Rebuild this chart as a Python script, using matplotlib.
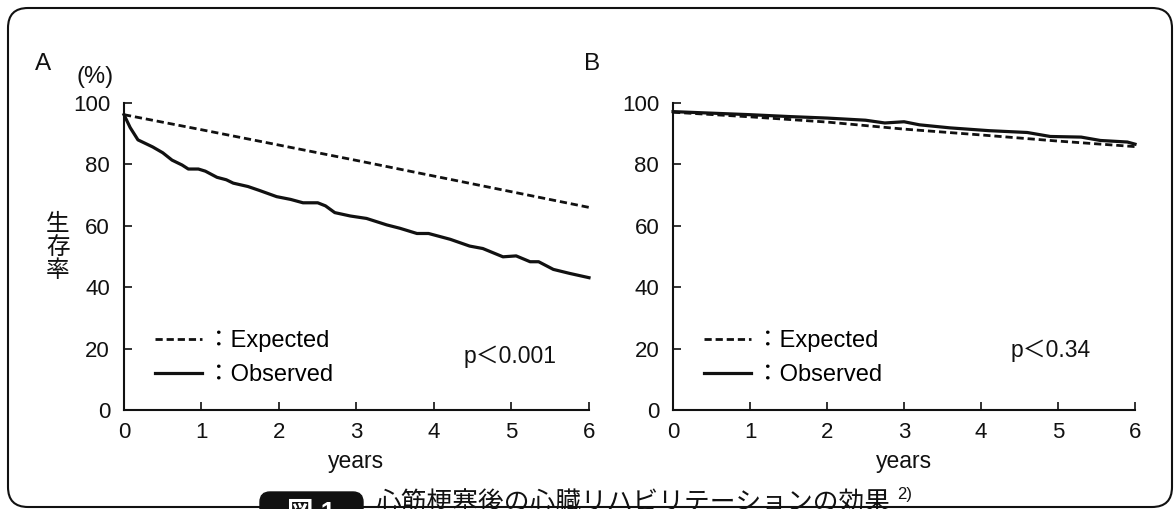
import matplotlib
matplotlib.use("Agg")
from matplotlib import pyplot as plt
from matplotlib.patches import FancyBboxPatch

plt.rcParams["font.family"] = ["Liberation Sans", "Noto Sans CJK JP"]

# panel A
years_a_exp = [0, 1, 2, 3, 4, 5, 6]
expected_a = [96.2, 91.3, 86.3, 81.3, 76.2, 71.1, 66.0]
years_a_obs = [0, 0.08, 0.18, 0.37, 0.5, 0.62, 0.75, 0.83, 0.96, 1.05, 1.2, 1.32,
               1.41, 1.6, 1.75, 1.97, 2.15, 2.31, 2.5, 2.6, 2.72, 2.92, 3.13, 3.39,
               3.56, 3.78, 3.93, 4.21, 4.46, 4.63, 4.89, 5.06, 5.24, 5.35, 5.54,
               5.75, 6.0]
observed_a = [96.2, 92.0, 88.0, 85.7, 83.8, 81.4, 79.8, 78.5, 78.5, 77.8, 75.8, 75.0,
              73.9, 72.8, 71.5, 69.5, 68.6, 67.5, 67.5, 66.5, 64.3, 63.2, 62.4, 60.3,
              59.2, 57.5, 57.5, 55.6, 53.4, 52.6, 49.9, 50.2, 48.3, 48.3, 45.8,
              44.5, 43.1]

# panel B
years_b_exp = [0, 1, 2, 3, 4, 5, 6]
expected_b = [97.0, 95.5, 93.8, 91.5, 89.6, 87.6, 85.8]
years_b_obs = [0, 0.5, 1, 1.5, 2, 2.5, 2.75, 3.0, 3.2, 3.6, 4.1, 4.6, 4.9, 5.3,
               5.55, 5.9, 6.0]
observed_b = [97.2, 96.7, 96.2, 95.6, 95.1, 94.4, 93.5, 93.9, 92.9, 91.9, 91.0,
              90.4, 89.1, 88.9, 87.8, 87.3, 86.6]

panels = [
    ("A", [0.1056, 0.1945, 0.3961, 0.6031], years_a_exp, expected_a,
     years_a_obs, observed_a, "p＜0.001", 4.98, 17.3),
    ("B", [0.5733, 0.1945, 0.3935, 0.6031], years_b_exp, expected_b,
     years_b_obs, observed_b, "p＜0.34", 4.9, 19.3),
]

ink = "#111111"
fig = plt.figure(figsize=(11.74, 5.09), dpi=100)

for name, rect, xe, ye, xo, yo, ptxt, px, py in panels:
    ax = fig.add_axes(rect)
    ax.plot(xe, ye, color=ink, lw=2.0, linestyle=(0, (2.6, 1.4)), clip_on=False,
            label="：Expected")
    ax.plot(xo, yo, color=ink, lw=2.3, clip_on=False, label="：Observed")
    ax.set_xlim(0, 6)
    ax.set_ylim(0, 100)
    ax.set_xticks(range(7))
    ax.set_yticks([0, 20, 40, 60, 80, 100])
    for s in ["top", "right"]:
        ax.spines[s].set_visible(False)
    for s in ["left", "bottom"]:
        ax.spines[s].set_linewidth(1.5)
        ax.spines[s].set_color(ink)
    ax.tick_params(axis="both", direction="in", length=6, width=1.2,
                   labelsize=16, colors=ink)
    ax.tick_params(axis="x", pad=9)
    ax.tick_params(axis="y", pad=10)
    ax.set_xlabel("years", fontsize=16.5, labelpad=5, color=ink)
    ax.text(px, py, ptxt, fontsize=16.5, ha="center", va="center", color=ink)
    ax.legend(loc="center left", bbox_to_anchor=(0.067, 0.169), frameon=False,
              fontsize=17, handlelength=2.0, handletextpad=0.2,
              borderpad=0, labelspacing=0.5, borderaxespad=0)
    fig.text(rect[0] - 81 / 1174, 1 - 64 / 509, name, fontsize=17.5,
             ha="center", va="center", color=ink)

fig.text(95 / 1174, 1 - 77 / 509, "(%)", fontsize=17, ha="center", va="center",
         color=ink)
fig.text(58 / 1174, 1 - 248 / 509, "生\n存\n率", fontsize=17, ha="center",
         va="center", linespacing=1.05, color=ink)

# rounded frame around the figure
frame = FancyBboxPatch((0.08, 0.02), 11.64, 4.99,
                       boxstyle="round,pad=0,rounding_size=0.2",
                       transform=fig.dpi_scale_trans, fill=False,
                       edgecolor=ink, lw=1.5)
fig.patches.append(frame)

# caption (cut off at bottom edge, as in the source)
capbox = FancyBboxPatch((2.60, -0.3), 1.03, 0.47,
                        boxstyle="round,pad=0,rounding_size=0.1",
                        transform=fig.dpi_scale_trans, facecolor=ink,
                        edgecolor=ink)
fig.patches.append(capbox)
fig.text(311 / 1174, 1 - 513 / 509, "図 1", fontsize=19, color="white",
         fontweight="bold", ha="center", va="center")
fig.text(375 / 1174, 1 - 504 / 509, "心筋梗塞後の心臓リハビリテーションの効果", fontsize=18.5,
         ha="left", va="center", color=ink)
fig.text(897 / 1174, 1 - 494 / 509, "2)", fontsize=12, ha="left", va="center",
         color=ink)

fig.savefig("out.png", dpi=100)
